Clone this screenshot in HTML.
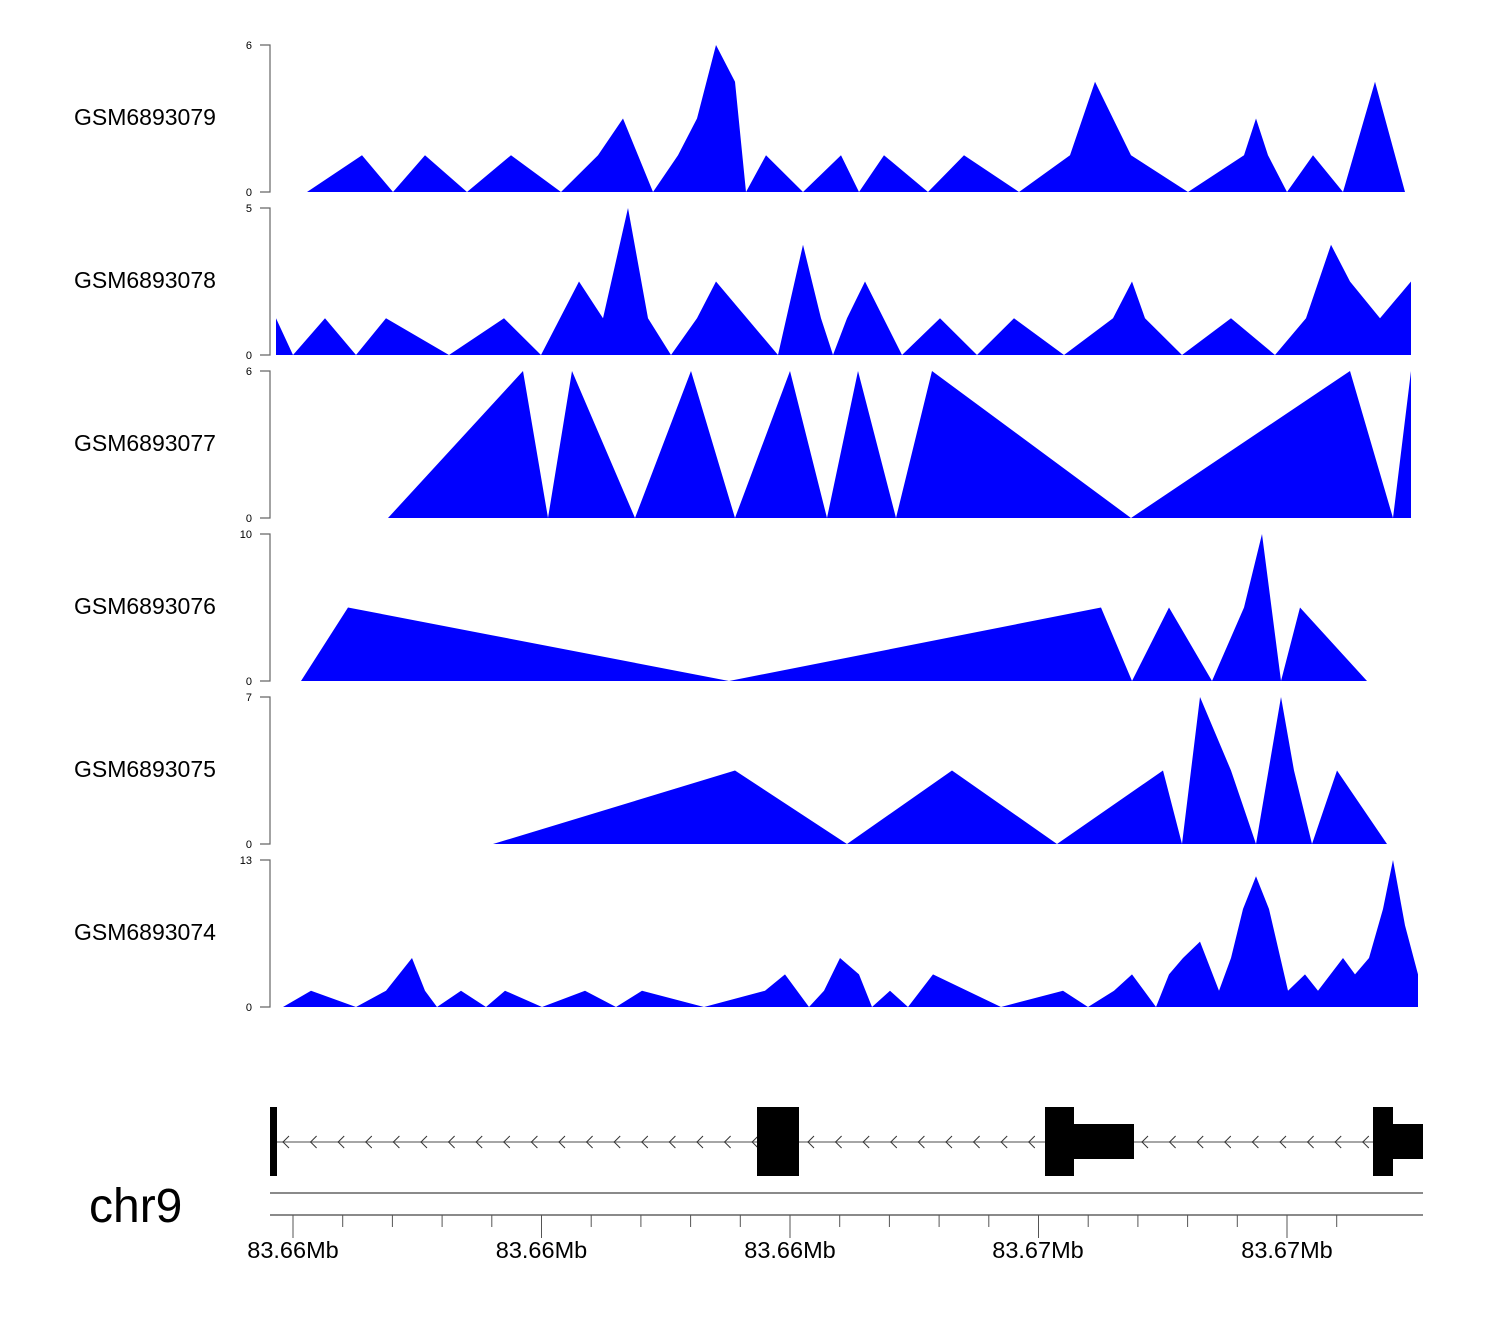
<!DOCTYPE html>
<html><head><meta charset="utf-8"><style>
html,body{margin:0;padding:0;background:#fff;}
svg{display:block;font-family:"Liberation Sans",sans-serif;}
</style></head><body>
<svg id="chart" width="1500" height="1320" viewBox="0 0 1500 1320" xmlns="http://www.w3.org/2000/svg">
<text x="89" y="1222" font-size="48" fill="#000">chr9</text>
</svg>
<script>
// genomic offsets (bp) from region start; values are coverage
const START = 83656770;
const trackNames = ["GSM6893079","GSM6893078","GSM6893077","GSM6893076","GSM6893075","GSM6893074"];
const trackMax = [6,5,6,10,7,13];
const pos1 = [370,920,1230,1550,1970,2410,2910,3280,3530,3830,4080,4270,4460,4650,4760,4960,5330,5710,5890,6140,6580,6940,7490,8000,8250,8610,9180,9740,9860,9980,10170,10430,10730,11050,11350];
const val1 = [0,1.5,0,1.5,0,1.5,0,1.5,3,0,1.5,3,6,4.5,0,1.5,0,1.5,0,1.5,0,1.5,0,1.5,4.5,1.5,0,1.5,3,1.5,0,1.5,0,4.5,0];
const pos2 = [60,230,550,860,1160,1790,2340,2710,3090,3330,3580,3780,4010,4270,4460,5080,5330,5510,5630,5770,5950,6320,6700,7070,7440,7940,8430,8620,8750,9120,9610,10050,10360,10610,10800,11100,11410];
const val2 = [1.25,0,1.25,0,1.25,0,1.25,0,2.5,1.25,5,1.25,0,1.25,2.5,0,3.75,1.25,0,1.25,2.5,0,1.25,0,1.25,0,1.25,2.5,1.25,0,1.25,0,1.25,3.75,2.5,1.25,2.5];
const pos3 = [1180,2530,2780,3020,3650,4210,4650,5200,5570,5880,6260,6620,8610,10800,11230,11410];
const val3 = [0,6,0,6,0,6,0,6,0,6,0,6,0,6,0,6];
const pos4 = [310,780,4590,8310,8620,8990,9420,9740,9920,10110,10300,10970];
const val4 = [0,5,0,5,0,5,0,5,10,0,5,0];
const pos5 = [2230,4650,5770,6820,7870,8930,9120,9300,9610,9860,10110,10240,10420,10670,11170];
const val5 = [0,3.5,0,3.5,0,3.5,0,7,3.5,0,7,3.5,0,3.5,0];
const pos6 = [130,410,860,1160,1420,1550,1670,1910,2160,2350,2720,3150,3460,3720,4340,4950,5150,5390,5540,5700,5890,6020,6200,6380,6630,7310,7930,8180,8440,8620,8860,8990,9130,9300,9490,9610,9730,9860,9990,10180,10350,10480,10730,10850,10990,11130,11230,11350,11480];
const val6 = [0,1.44,0,1.44,4.33,1.44,0,1.44,0,1.44,0,1.44,0,1.44,0,1.44,2.89,0,1.44,4.33,2.89,0,1.44,0,2.89,0,1.44,0,1.44,2.89,0,2.89,4.33,5.78,1.44,4.33,8.67,11.56,8.67,1.44,2.89,1.44,4.33,2.89,4.33,8.67,13,7.22,2.89];
const trackPos = [pos1,pos2,pos3,pos4,pos5,pos6];
const trackVal = [val1,val2,val3,val4,val5,val6];
const tickPos = [230,2715,5200,7680,10170];
const tickLabels = ["83.66Mb","83.66Mb","83.66Mb","83.67Mb","83.67Mb"];
const exonStart = [0,4870,7750,7750,11030,11030];
const exonEnd = [70,5290,8040,8640,11230,11530];
const exonTall = [1,1,1,0,1,0];

const NS = "http://www.w3.org/2000/svg";
const svg = document.getElementById("chart");
function xS(p){ return 270 + p/10; }
function mk(tag, attrs){ const e = document.createElementNS(NS, tag); for (const k in attrs) e.setAttribute(k, attrs[k]); svg.appendChild(e); return e; }

trackNames.forEach((name, i) => {
  const top = 45 + i*163, bot = top + 147;
  const yS = v => bot - v / trackMax[i] * 147;
  const lab = mk("text", {x:74, y:top+80, "font-size":23, fill:"#000"});
  lab.textContent = name;
  
  
  const ax = mk("path", {d:`M260 ${top}H270V${bot}H260`, fill:"none", stroke:"#666", "stroke-width":1.2});
  
  
  [[trackMax[i], top],[0, bot]].forEach(([t, y]) => {
    const tl = mk("text", {x:252, y:y+4, "font-size":11, "text-anchor":"end", fill:"#000"});
    tl.textContent = t;
    
    
  });
  const P = trackPos[i], V = trackVal[i];
  let d = `M${xS(P[0])} ${bot}`;
  P.forEach((p, j) => { d += `L${xS(p)} ${yS(V[j])}`; });
  d += `L${xS(P[P.length-1])} ${bot}Z`;
  const area = mk("path", {d, fill:"#0000ff", stroke:"none"});
  
  
});

// gene model
const intron = mk("line", {x1:272, y1:1142, x2:1423, y2:1142, stroke:"#888", "stroke-width":1.5});


const segs = [[283,755],[808,1043],[1142,1371]];
segs.forEach(([a,b]) => {
  for (let x = a; x < b; x += 27.6) {
    const ar = mk("path", {d:`M${x+6} 1136L${x} 1142L${x+6} 1148`, fill:"none", stroke:"#333", "stroke-width":1});
    
    
  }
});
exonStart.forEach((s, j) => {
  const tall = exonTall[j];
  const y = tall ? 1107 : 1124, h = tall ? 69 : 35;
  const r = mk("rect", {x:xS(s), y, width:xS(exonEnd[j])-xS(s), height:h, fill:"#000"});
  
  
});

// genome axis
const l1 = mk("line", {x1:270, y1:1193, x2:1423, y2:1193, stroke:"#444", "stroke-width":1.2});


const l2 = mk("line", {x1:270, y1:1215, x2:1423, y2:1215, stroke:"#444", "stroke-width":1.2});


for (let k = -1; k < 22; k++) {
  const p = tickPos[0] + k*497;
  const x = xS(p);
  if (x < 270 || x > 1423) continue;
  const major = (k % 5 === 0);
  const t = mk("line", {x1:x, y1:1215, x2:x, y2:major?1238:1227, stroke:"#555", "stroke-width":1});
  
  
}
tickPos.forEach((p, j) => {
  const t = mk("text", {x:xS(p), y:1258, "font-size":23.5, "text-anchor":"middle", fill:"#000"});
  t.textContent = tickLabels[j];
  
  
});
</script>
</body></html>
